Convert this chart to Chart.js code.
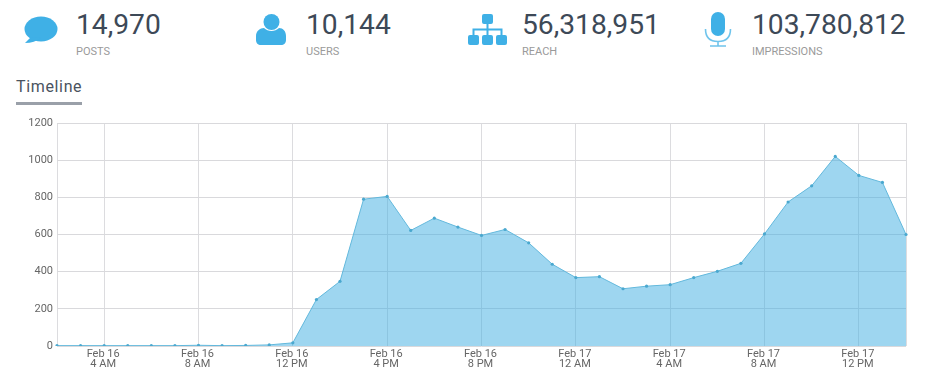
<!DOCTYPE html>
<html>
<head>
<meta charset="utf-8">
<title>Timeline</title>
<script src="https://cdn.jsdelivr.net/npm/chart.js@4"></script>
<style>
  html, body { margin: 0; padding: 0; background: #fff; }
  body { width: 936px; height: 378px; position: relative; overflow: hidden; font-family: Roboto, sans-serif; }
  .stat { position: absolute; top: 0; }
  .stat .num { position: absolute; top: 8px; left: 0; font-size: 28.2px; line-height: 34px; color: #3d4957; white-space: nowrap; }
  .stat .lab { position: absolute; top: 45px; left: 0; font-size: 11px; line-height: 14px; color: #9a9a9a; white-space: nowrap; }
  .icon { position: absolute; top: 0; left: 0; }
  #tabTitle { position: absolute; left: 16px; top: 77px; font-size: 16px; line-height: 20px; letter-spacing: 0.65px; color: #4a5360; }
  #tabLine { position: absolute; left: 16px; top: 102px; width: 66px; height: 3px; background: #9aa0a9; }
  #wrap { position: absolute; left: 0; top: 110px; width: 936px; height: 268px; }
</style>
</head>
<body>
<svg class="icon" width="936" height="60" fill="#3fb0e6">
  <!-- posts -->
  <ellipse cx="41" cy="29" rx="16.5" ry="12.5"/>
  <path d="M31 37 L25 43 C31 43 37 41 41 38 Z"/>
  <!-- users -->
  <circle cx="271.5" cy="22" r="8"/>
  <path d="M256 36 C256 31 260 28 264 28 C268 32 275 32 279 28 C283 28 286 31 286 36 V40 C286 43 284 45 281 45 H261 C258 45 256 43 256 40 Z"/>
  <!-- reach -->
  <rect x="482" y="14" width="11" height="10" rx="2"/>
  <rect x="468" y="35" width="11" height="10" rx="2"/>
  <rect x="482" y="35" width="11" height="10" rx="2"/>
  <rect x="496" y="35" width="11" height="10" rx="2"/>
  <path d="M473.5 35 V29.5 H501.5 V35 M487.5 24 V35" fill="none" stroke="#3fb0e6" stroke-width="2"/>
  <!-- impressions -->
  <rect x="711" y="12" width="14" height="24" rx="7"/>
  <path d="M705.5 29 C705.5 38 711 41.5 718 41.5 C725 41.5 730.5 38 730.5 29 M718 41.5 V46 M710 46 H726" fill="none" stroke="#6fc4ec" stroke-width="1.6"/>
</svg>

<div class="stat" style="left:76px"><div class="num" id="n0"></div><div class="lab" id="l0"></div></div>
<div class="stat" style="left:306px"><div class="num" id="n1"></div><div class="lab" id="l1"></div></div>
<div class="stat" style="left:522px"><div class="num" id="n2"></div><div class="lab" id="l2"></div></div>
<div class="stat" style="left:752px"><div class="num" id="n3"></div><div class="lab" id="l3"></div></div>

<div id="tabTitle">Timeline</div>
<div id="tabLine"></div>

<div id="wrap"><canvas id="myChart" width="936" height="268"></canvas></div>

<script>
const statNumbers = ['14,970', '10,144', '56,318,951', '103,780,812'];
const statLabels = ['POSTS', 'USERS', 'REACH', 'IMPRESSIONS'];

// one point per hour, Feb 16 2 AM to Feb 17 2 PM
const hours = [
  'Feb 16 2 AM', 'Feb 16 3 AM', 'Feb 16 4 AM', 'Feb 16 5 AM', 'Feb 16 6 AM', 'Feb 16 7 AM',
  'Feb 16 8 AM', 'Feb 16 9 AM', 'Feb 16 10 AM', 'Feb 16 11 AM', 'Feb 16 12 PM', 'Feb 16 1 PM',
  'Feb 16 2 PM', 'Feb 16 3 PM', 'Feb 16 4 PM', 'Feb 16 5 PM', 'Feb 16 6 PM', 'Feb 16 7 PM',
  'Feb 16 8 PM', 'Feb 16 9 PM', 'Feb 16 10 PM', 'Feb 16 11 PM', 'Feb 17 12 AM', 'Feb 17 1 AM',
  'Feb 17 2 AM', 'Feb 17 3 AM', 'Feb 17 4 AM', 'Feb 17 5 AM', 'Feb 17 6 AM', 'Feb 17 7 AM',
  'Feb 17 8 AM', 'Feb 17 9 AM', 'Feb 17 10 AM', 'Feb 17 11 AM', 'Feb 17 12 PM', 'Feb 17 1 PM',
  'Feb 17 2 PM'
];
const posts = [
  2, 2, 2, 2, 2, 2,
  4, 2, 3, 6, 17, 250,
  348, 790, 805, 622, 688, 640,
  595, 627, 555, 440, 368, 373,
  308, 322, 330, 368, 402, 445,
  603, 775, 862, 1020, 918, 880,
  600
];
const tickHours = [
  'Feb 16 4 AM', 'Feb 16 8 AM', 'Feb 16 12 PM', 'Feb 16 4 PM', 'Feb 16 8 PM',
  'Feb 17 12 AM', 'Feb 17 4 AM', 'Feb 17 8 AM', 'Feb 17 12 PM'
];

statNumbers.forEach((n, i) => {
  document.getElementById('n' + i).textContent = n;
  document.getElementById('l' + i).textContent = statLabels[i];
});

// split "Feb 16 4 AM" in the two lines of the axis label
function twoLines(label) {
  const parts = label.split(' ');
  return [parts[0] + ' ' + parts[1], parts[2] + ' ' + parts[3]];
}

const ctx = document.getElementById('myChart');

new Chart(ctx, {
  type: 'line',
  data: {
    labels: hours,
    datasets: [{
      label: 'Posts',
      data: posts,
      fill: true,
      tension: 0,
      borderWidth: 1,
      borderColor: '#62b8dc',
      backgroundColor: 'rgba(62, 173, 226, 0.5)',
      pointRadius: 1.6,
      pointBorderWidth: 0,
      pointBackgroundColor: '#4aa8cf'
    }]
  },
  options: {
    responsive: false,
    animation: false,
    layout: { padding: { top: 13, right: 30, bottom: 4, left: 0 } },
    plugins: {
      legend: { display: false },
      tooltip: { enabled: false }
    },
    scales: {
      x: {
        // keep the first and last tick too, they draw the side lines of the plot
        afterBuildTicks: axis => {
          axis.ticks = axis.ticks.filter(t =>
            t.value === 0 || t.value === hours.length - 1 || tickHours.includes(hours[t.value]));
        },
        afterFit: axis => { axis.height = 28; },
        grid: { color: '#dcdcdf', lineWidth: 1, drawTicks: false },
        border: { display: false },
        ticks: {
          autoSkip: false,
          maxRotation: 0,
          padding: 3,
          labelOffset: -1,
          color: '#666',
          font: { family: 'Roboto', size: 11, lineHeight: 0.95 },
          callback: function (value) {
            const h = hours[value];
            return tickHours.includes(h) ? twoLines(h) : '';
          }
        }
      },
      y: {
        min: 0,
        max: 1200,
        afterFit: axis => { axis.width = 57; },
        grid: { color: '#d9d9dc', lineWidth: 1, drawTicks: false },
        border: { display: false },
        ticks: {
          stepSize: 200,
          padding: 4,
          color: '#666',
          font: { family: 'Roboto', size: 11 },
          callback: value => String(value)
        }
      }
    }
  }
});
</script>
</body>
</html>
